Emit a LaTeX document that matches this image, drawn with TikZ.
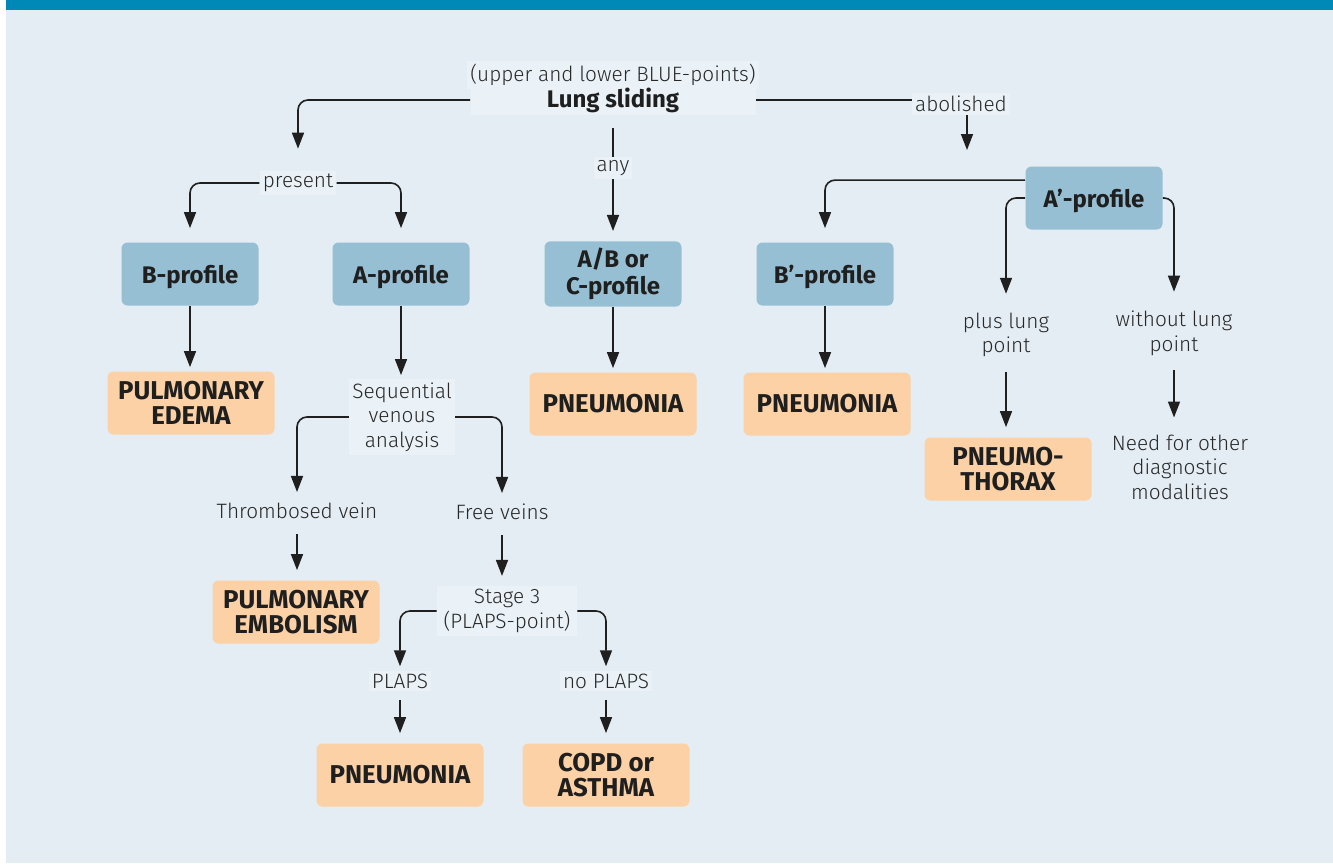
\documentclass[tikz,border=0pt]{standalone}
\usepackage{fontspec}
\setmainfont{Fira Sans Light}[BoldFont={Fira Sans Bold}]
\usetikzlibrary{arrows.meta}

\definecolor{bgblue}{RGB}{228,237,244}
\definecolor{barblue}{RGB}{0,137,182}
\definecolor{profblue}{RGB}{151,191,212}
\definecolor{dxorange}{RGB}{251,209,165}
\definecolor{lblfill}{RGB}{234,242,247}
\definecolor{txt}{RGB}{40,40,40}

\tikzset{
  every node/.style={font=\fontsize{10.4}{12.3}\selectfont, text=txt, align=center},
  prof/.style={fill=profblue, rounded corners=3pt, minimum width=68.5pt,
    minimum height=31.5pt, font=\fontsize{12}{13.5}\selectfont\bfseries, text=black!88},
  dx/.style={prof, fill=dxorange, minimum width=83.5pt, font=\fontsize{12.9}{12.8}\selectfont\bfseries},
  lbl/.style={fill=lblfill, inner sep=1.5pt},
  line/.style={draw=black!88, line width=0.8pt},
  arr/.style={line, -{Triangle[width=6pt,length=8pt]}},
  elbow/.style={arr, rounded corners=5pt}
}

\begin{document}
\begin{tikzpicture}[x=0.5pt,y=-0.5pt]
      \useasboundingbox (0,0) rectangle (1333,863);
      \fill [white] (0,0) rectangle (6,863);
      \fill [bgblue] (6,10) rectangle (1333,863);
      \fill [barblue] (6,0) rectangle (1333,10);

      % first row
      \node [lbl, minimum width=142.5pt] (blue) at (613,75) {(upper and lower BLUE-points)};
      \node [lbl, minimum width=142.5pt, font=\fontsize{12}{13}\selectfont\bfseries, text=black!88]
        (lung) at (613,100) {Lung sliding};
      \node [lbl] (present) at (298,183) {present};
      \node [lbl] (any) at (613,168) {any};
      \node [lbl, minimum width=48pt] (abol) at (961,104) {abolished};

      % profiles
      \node [prof, text depth=0pt] (bprof) at (190,274) {B-profile};
      \node [prof, text depth=0pt] (aprof) at (401,274) {A-profile};
      \node [prof] (abc) at (613,274) {A/B or\\C-profile};
      \node [prof, text depth=0pt] (bpp) at (825,274) {B’-profile};
      \node [prof, text depth=0pt] (aprime) at (1094,198) {A’-profile};

      % labels
      \node [lbl] (seq) at (402,417) {Sequential\\venous\\analysis};
      \node (thromb) at (297,511) {Thrombosed vein};
      \node (free) at (502,512) {Free veins};
      \node [lbl, minimum width=70pt] (stage) at (507,611) {Stage 3\\(PLAPS-point)};
      \node [lbl] (plaps) at (400,681) {PLAPS};
      \node [lbl] (noplaps) at (606,681) {no PLAPS};
      \node (plus) at (1006,335) {plus lung\\point};
      \node (without) at (1174,333) {without lung\\point};
      \node (need) at (1180,467) {Need for other\\diagnostic\\modalities};

      % diagnoses
      \node [dx] (edema) at (191,403) {PULMONARY\\EDEMA};
      \node [dx] (pn1) at (613,404) {PNEUMONIA};
      \node [dx] (pn2) at (827,404) {PNEUMONIA};
      \node [dx] (ptx) at (1008,469) {PNEUMO-\\THORAX};
      \node [dx] (embol) at (296,612) {PULMONARY\\EMBOLISM};
      \node [dx] (pn3) at (400,775) {PNEUMONIA};
      \node [dx] (copd) at (606,775) {COPD or\\ASTHMA};

      \coordinate (abolend) at (967,150);

      \draw [elbow, shorten >=11pt] (lung.west) -| (present.north);
      \draw [elbow, shorten >=7pt] (present.west) -| (bprof.north);
      \draw [elbow, shorten >=7pt] (present.east) -| (aprof.north);
      \draw [line, shorten <=6pt] (lung.south) -- (any.north);
      \draw [arr, shorten >=5pt] (any.south) -- (abc.north);
      \draw [line] (lung.east) -- (lung.east -| abol.west);
      \draw [arr] (abol.south -| abolend) -- (abolend);
      \draw [elbow, shorten >=7pt] ([yshift=-7pt]aprime.north west) -| (bpp.north);
      \draw [elbow, shorten >=6pt] (aprime.west) -| (plus.north);
      \draw [elbow, shorten >=6pt] (aprime.east) -| (without.north);
      \draw [elbow, shorten >=2pt] (seq.west) -| (thromb.north);
      \draw [elbow, shorten >=2pt] (seq.east) -| (free.north);
      \draw [elbow, shorten >=2pt] (stage.west) -| (plaps.north);
      \draw [elbow, shorten >=2pt] (stage.east) -| (noplaps.north);

      \foreach \from/\to in {bprof/edema,aprof/seq,abc/pn1,bpp/pn2}
        \draw [arr, shorten >=2pt] (\from.south) -- (\from.south |- \to.north);
      \foreach \from/\to in {plus/ptx,without/need,thromb/embol,free/stage,plaps/pn3,noplaps/copd}
        \draw [arr, shorten <=4pt, shorten >=5pt] (\from.south) -- (\from.south |- \to.north);
    \end{tikzpicture}
\end{document}
